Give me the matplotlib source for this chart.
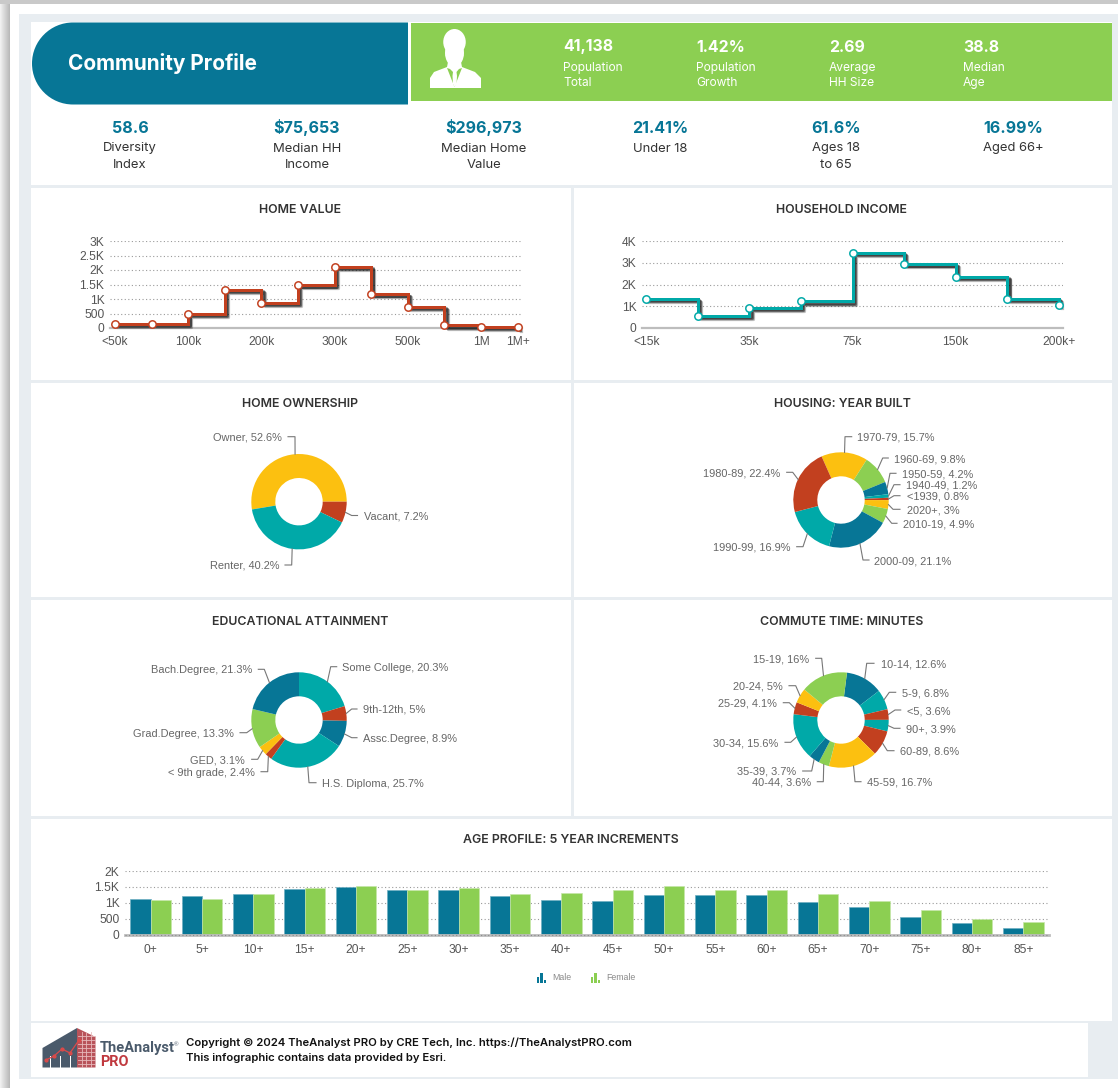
import math
import matplotlib
matplotlib.use("Agg")
import matplotlib.pyplot as plt
from matplotlib.patches import Rectangle, Polygon, Ellipse, PathPatch
from matplotlib.path import Path
import matplotlib.patheffects as pe

W, H = 1118, 1088
BLUE, GREEN, TEAL, RED, YELLOW = '#077696', '#8CCF52', '#00A9A8', '#C2401F', '#FCC010'
HEAD = 'Inter'
BODY = 'Liberation Sans'

# ---------- data ----------
top_stats = ['41,138', '1.42%', '2.69', '38.8']
top_labels = [('Population', 'Total'), ('Population', 'Growth'), ('Average', 'HH Size'), ('Median', 'Age')]
low_stats = ['58.6', '$75,653', '$296,973', '21.41%', '61.6%', '16.99%']
low_labels = [['Diversity', 'Index'], ['Median HH', 'Income'], ['Median Home', 'Value'],
              ['Under 18'], ['Ages 18', 'to 65'], ['Aged 66+']]

home_cats = ['<50k', '50k', '100k', '150k', '200k', '250k', '300k', '400k', '500k', '750k', '1M', '1M+']
home_shown = ['<50k', '100k', '200k', '300k', '500k', '1M', '1M+']
home_vals = [137, 137, 480, 1317, 870, 1477, 2118, 1168, 721, 92, 46, 23]
home_yticks = [0, 500, 1000, 1500, 2000, 2500, 3000]
home_ylabels = ['0', '500', '1K', '1.5K', '2K', '2.5K', '3K']

inc_cats = ['<15k', '25k', '35k', '50k', '75k', '100k', '150k', '175k', '200k+']
inc_shown = ['<15k', '35k', '75k', '150k', '200k+']
inc_vals = [1344, 565, 916, 1221, 3450, 2931, 2366, 1344, 1053]
inc_yticks = [0, 1000, 2000, 3000, 4000]
inc_ylabels = ['0', '1K', '2K', '3K', '4K']

own_names = ['Owner', 'Vacant', 'Renter']
own_vals = [52.6, 7.2, 40.2]
own_cols = [YELLOW, RED, TEAL]

year_names = ['1970-79', '1960-69', '1950-59', '1940-49', '<1939', '2020+', '2010-19', '2000-09', '1990-99', '1980-89']
year_vals = [15.7, 9.8, 4.2, 1.2, 0.8, 3, 4.9, 21.1, 16.9, 22.4]
year_cols = [YELLOW, GREEN, BLUE, TEAL, RED, YELLOW, GREEN, BLUE, TEAL, RED]

edu_names = ['Some College', '9th-12th', 'Assc.Degree', 'H.S. Diploma', '< 9th grade', 'GED', 'Grad.Degree', 'Bach.Degree']
edu_vals = [20.3, 5, 8.9, 25.7, 2.4, 3.1, 13.3, 21.3]
edu_cols = [TEAL, RED, BLUE, TEAL, RED, YELLOW, GREEN, BLUE]

com_names = ['10-14', '5-9', '<5', '90+', '60-89', '45-59', '40-44', '35-39', '30-34', '25-29', '20-24', '15-19']
com_vals = [12.6, 6.8, 3.6, 3.9, 8.6, 16.7, 3.6, 3.7, 15.6, 4.1, 5, 16]
com_cols = [BLUE, TEAL, RED, TEAL, RED, YELLOW, GREEN, BLUE, TEAL, RED, YELLOW, GREEN]

age_cats = ['0+', '5+', '10+', '15+', '20+', '25+', '30+', '35+', '40+', '45+', '50+', '55+', '60+', '65+', '70+', '75+', '80+', '85+']
male = [1116, 1200, 1263, 1421, 1495, 1390, 1390, 1200, 1084, 1042, 1242, 1242, 1242, 1010, 853, 547, 358, 210]
female = [1084, 1116, 1263, 1463, 1537, 1411, 1463, 1263, 1305, 1410, 1537, 1390, 1390, 1263, 1042, 779, 484, 389]
age_yticks = [0, 500, 1000, 1500, 2000]
age_ylabels = ['0', '500', '1K', '1.5K', '2K']

# ---------- layout (pixels) ----------
own_layout = [(282, 436.7, 'right', 295, 288), (363.5, 515.5, 'left', 351.7, 357.5), (279, 565, 'right', 291.7, 285)]
year_layout = [(857.3, 436.7, 'left', 845, 851.7), (894.3, 458, 'left', 882.7, 888.3), (901.7, 473.3, 'left', 890, 896),
               (905.7, 484.7, 'left', 894, 900), (906.7, 495.7, 'left', 894, 900), (906.7, 509.3, 'left', 893, 900),
               (903.3, 523.3, 'left', 891.7, 897), (874.3, 560, 'left', 863, 869), (790.7, 546.7, 'right', 803, 796.7),
               (780, 472.3, 'right', 792.7, 786.7)]
edu_layout = [(342.3, 666.7, 'left', 330.7, 336.7), (363.3, 709, 'left', 351.7, 357), (362.7, 737.7, 'left', 351.7, 357),
              (322.3, 782.7, 'left', 309, 316), (255, 771.7, 'right', 267.7, 261), (245, 759.3, 'right', 257.7, 251.7),
              (234, 732.7, 'right', 246.7, 240), (252.7, 669.3, 'right', 264.3, 258.3)]
com_layout = [(880.7, 663.3, 'left', 866.7, 874), (901.7, 692.3, 'left', 889.3, 895.7), (906.7, 710, 'left', 895, 900.7),
              (905.7, 728.3, 'left', 894, 900), (900, 750.7, 'left', 887.3, 894), (866.7, 781.7, 'left', 855, 861),
              (810.7, 781.7, 'right', 823.3, 817.3), (796, 771, 'right', 811.7, 802.7), (778.3, 742.3, 'right', 790.7, 785),
              (776.7, 702.7, 'right', 789.3, 783.3), (782.7, 685.7, 'right', 795.7, 789), (809.3, 658.3, 'right', 821.7, 815.7)]

fig = plt.figure(figsize=(W / 100, H / 100), dpi=100, facecolor='white')


def pt(px):
    return px * 0.72


def px_axes(l, t, r, b, **kw):
    return fig.add_axes([l / W, 1 - b / H, (r - l) / W, (b - t) / H], **kw)


bg = px_axes(0, 0, W, H, zorder=0)
bg.set_xlim(0, W)
bg.set_ylim(H, 0)
bg.axis('off')
ov = px_axes(0, 0, W, H, zorder=10)
ov.set_xlim(0, W)
ov.set_ylim(H, 0)
ov.axis('off')
ov.patch.set_alpha(0)


def rect(l, t, r, b, c, ax=bg, **kw):
    ax.add_patch(Rectangle((l, t), r - l, b - t, facecolor=c, edgecolor='none', **kw))


# page shadow
for i in range(10):
    g = 0.94 - 0.024 * i
    rect(i, 0, i + 1, H, (g, g, g))
rect(0, 0, W, 4, '#C9C9C9')
rect(18.5, 13.5, W, 1079, '#E8EDF1')

# white panels
for p in [(31, 22, 1112, 185), (31, 188, 571, 379.5), (574, 188, 1112, 379.5),
          (31, 382.5, 571, 597), (574, 382.5, 1112, 597),
          (31, 600, 571, 816), (574, 600, 1112, 816),
          (31, 819, 1112, 1021), (31, 1023, 1088, 1076.5)]:
    rect(*p, 'white')

# header bars
R = 41
K = 0.5523 * R
T, B, L = 22.5, 104.5, 32
verts = [(408, T), (L + R, T), (L + R - K, T), (L, T + R - K), (L, T + R),
         (L, B - R + K), (L + R - K, B), (L + R, B), (408, B), (408, T)]
codes = [Path.MOVETO, Path.LINETO, Path.CURVE4, Path.CURVE4, Path.CURVE4,
         Path.CURVE4, Path.CURVE4, Path.CURVE4, Path.LINETO, Path.CLOSEPOLY]
bg.add_patch(PathPatch(Path(verts, codes), facecolor=BLUE, edgecolor='none'))
rect(410.5, 22.5, 1112, 100.5, GREEN)

# person icon
ov.add_patch(Ellipse((454.5, 42), 22.5, 26, facecolor='white', edgecolor='none'))
ov.add_patch(Ellipse((454.5, 53), 19, 27, facecolor='white', edgecolor='none'))
ov.add_patch(Polygon([(430, 88), (430, 78), (434, 72), (447, 67), (448, 62), (461, 62), (462, 67), (475, 72), (481, 78), (481, 88)],
                     facecolor='white', edgecolor='none'))
ov.add_patch(Polygon([(447, 68), (454.5, 87), (462, 68), (459, 69), (456.5, 72), (453, 72), (450, 69)], facecolor=GREEN, edgecolor='none'))
ov.add_patch(Polygon([(453, 72), (456.5, 72), (457, 76), (456.5, 84), (454.7, 87), (453, 84), (452.5, 76)], facecolor='white', edgecolor='none'))

ov.text(68, 70.5, 'Community Profile', color='white', fontsize=pt(20.8), fontweight='bold', family=HEAD, va='baseline')
for x, s, (a, b) in zip([563, 696, 829, 963], top_stats, top_labels):
    ov.text(x, 51.5, s, color='white', fontsize=pt(15.9), fontweight='bold', family=HEAD, va='baseline')
    ov.text(x, 71, a, color='white', fontsize=pt(12), family=HEAD, va='baseline')
    ov.text(x, 86, b, color='white', fontsize=pt(12), family=HEAD, va='baseline')
for x, s, lab in zip([130, 307, 484, 660, 836, 1013], low_stats, low_labels):
    ov.text(x, 133, s, color=BLUE, fontsize=pt(16), fontweight='bold', family=HEAD, ha='center', va='baseline')
    for j, t in enumerate(lab):
        ov.text(x, 151.5 + 16.5 * j, t, color='#333333', fontsize=pt(13), family=HEAD, ha='center', va='baseline')

for x, y, s in [(300, 212.8, 'HOME VALUE'), (842, 212.8, 'HOUSEHOLD INCOME'), (300, 406.8, 'HOME OWNERSHIP'),
                (842, 406.8, 'HOUSING: YEAR BUILT'), (300, 624.8, 'EDUCATIONAL ATTAINMENT'),
                (842, 624.8, 'COMMUTE TIME: MINUTES'), (571, 842.8, 'AGE PROFILE: 5 YEAR INCREMENTS')]:
    ov.text(x, y, s, color='#333333', fontsize=pt(12.4), fontweight='semibold', family=HEAD, ha='center', va='baseline')


def style_axes(ax, yticks, ylabels, xticks, xlabels, ymax):
    ax.set_facecolor('none')
    for s in ax.spines.values():
        s.set_visible(False)
    ax.spines['bottom'].set_visible(True)
    ax.spines['bottom'].set_color('#BDBDBD')
    ax.spines['bottom'].set_linewidth(1.6)
    ax.set_ylim(0, ymax)
    ax.set_yticks(yticks, ylabels)
    ax.set_xticks(xticks, xlabels)
    ax.tick_params(length=0, labelsize=pt(12), labelcolor='#555555', pad=4)
    ax.tick_params(axis='x', pad=6)
    for lab in ax.get_xticklabels() + ax.get_yticklabels():
        lab.set_family(BODY)
    ax.grid(axis='y', color='#9A9A9A', linewidth=0.8, linestyle=(0, (1, 2.2)))
    ax.grid(axis='x', visible=False)
    ax.set_axisbelow(True)


def step_chart(box, cats, shown, vals, yticks, ylabels, ymax, color, xlim):
    ax = px_axes(*box, zorder=5)
    xs = list(range(len(cats)))
    ax.set_xlim(*xlim)
    style_axes(ax, yticks, ylabels, [cats.index(c) for c in shown], shown, ymax)
    for off, al in [((1.0, -1.0), .35), ((1.6, -1.6), .45), ((2.3, -2.3), .25)]:
        ax.step(xs, vals, where='post', color='none', lw=pt(3.2), clip_on=False, zorder=3,
                path_effects=[pe.SimpleLineShadow(offset=off, shadow_color='#000000', alpha=al)])
    ax.step(xs, vals, where='post', color=color, lw=pt(3), clip_on=False, zorder=4, solid_joinstyle='miter')
    ax.plot(xs, vals, ls='none', marker='o', ms=pt(7.4), mfc='white', mec=color, mew=pt(1.5), clip_on=False, zorder=5)


step_chart((110, 241, 522, 328), home_cats, home_shown, home_vals, home_yticks, home_ylabels, 3000, RED, (-0.137, 11.12))
step_chart((642, 241, 1063, 328), inc_cats, inc_shown, inc_vals, inc_yticks, inc_ylabels, 4000, TEAL, (-0.08, 8.08))


def donut(cx, cy, start, names, vals, cols, layout):
    r = 47.7
    rr = r * 1.25
    ax = px_axes(cx - rr, cy - rr, cx + rr, cy + rr, zorder=5)
    ax.pie(vals, colors=cols, startangle=90 - start, counterclock=False,
           wedgeprops=dict(width=24 / 47.7, linewidth=0), radius=1)
    ax.set_xlim(-1.25, 1.25)
    ax.set_ylim(-1.25, 1.25)
    cum = start
    total = sum(vals)
    for name, v, (tx, ty, ha, ex, lx) in zip(names, vals, layout):
        mid = math.radians(cum + v / total * 180)
        cum += v / total * 360
        wx, wy = cx + r * math.sin(mid), cy - r * math.cos(mid)
        ov.plot([wx, ex, lx], [wy, ty, ty], color='#777777', lw=0.8, solid_joinstyle='round')
        ov.text(tx, ty + 4, f'{name}, {v}%', ha=ha, va='baseline', color='#666666', fontsize=pt(11), family=BODY)


donut(299, 501.7, -99.4, own_names, own_vals, own_cols, own_layout)
donut(841, 500, -24, year_names, year_vals, year_cols, year_layout)
donut(299, 720, 0, edu_names, edu_vals, edu_cols, edu_layout)
donut(841, 720, 7.2, com_names, com_vals, com_cols, com_layout)

# age bars
ax = px_axes(125, 871, 1049, 934.5, zorder=5)
ax.set_xlim(-0.5, 17.5)
style_axes(ax, age_yticks, age_ylabels, list(range(18)), age_cats, 2000)
ax.spines['bottom'].set_linewidth(2)
ax.tick_params(axis='x', pad=7)
xpos = list(range(18))
w = 0.397
ax.bar([x - w / 2 for x in xpos], male, width=w, color=BLUE, edgecolor='#6FAFC2', linewidth=0.5, zorder=2)
ax.bar([x + w / 2 for x in xpos], female, width=w, color=GREEN, edgecolor='#C5E6A8', linewidth=0.5, zorder=2)
ax.axhline(0, color='#8A8A8A', lw=0.8, ls=(0, (1, 2.2)), zorder=4, clip_on=False)

# legend
for x0, c, t in [(536.5, BLUE, 'Male'), (590.5, GREEN, 'Female')]:
    for dx, top in [(0, 976.5), (3.5, 973), (7, 979.5)]:
        rect(x0 + dx, top, x0 + dx + 2.6, 983, c, ax=ov)
    ov.text(x0 + 15.5, 977.5, t, color='#8A8A8A', fontsize=pt(8.8), family=BODY, va='center')

# footer logo
ov.add_patch(Polygon([(42.5, 1048), (77, 1028), (77, 1067.5), (42.5, 1067.5)], facecolor='#4A5A6B', edgecolor='none'))
ov.add_patch(Polygon([(77, 1028), (95.5, 1037), (95.5, 1067.5), (77, 1067.5)], facecolor='#B8535A', edgecolor='none'))
for yy in range(1036, 1067, 4):
    ov.plot([78, 95], [yy, yy], color='#E7B9BB', lw=0.6)
for xx in (81.5, 86, 90.5):
    ov.plot([xx, xx], [1032, 1067], color='#E7B9BB', lw=0.6)
for x in (50, 60, 70):
    rect(x, 1056, x + 1.2, 1067.5, 'white', ax=ov)
ov.plot([46, 54, 62, 70, 79], [1060, 1056, 1049, 1053, 1040], color='#D94A4A', lw=0.9, marker='o', ms=2)
ov.text(100, 1048, 'TheAnalyst', color='#4A5A6B', fontsize=pt(14.6), fontweight='bold', family='Roboto', va='center')
ov.text(174, 1045, '®', color='#4A5A6B', fontsize=pt(6), family=BODY, va='center')
ov.text(100, 1062.5, 'PRO', color='#C0393F', fontsize=pt(14.5), fontweight='bold', family='Roboto', va='center')
ov.text(186, 1046, 'Copyright © 2024 TheAnalyst PRO by CRE Tech, Inc. https://TheAnalystPRO.com', color='#111111',
        fontsize=pt(11.3), fontweight='semibold', family=HEAD, va='baseline')
ov.text(186, 1061, 'This infographic contains data provided by Esri.', color='#111111',
        fontsize=pt(11.3), fontweight='semibold', family=HEAD, va='baseline')

fig.savefig('out.png', dpi=100, facecolor='white')
